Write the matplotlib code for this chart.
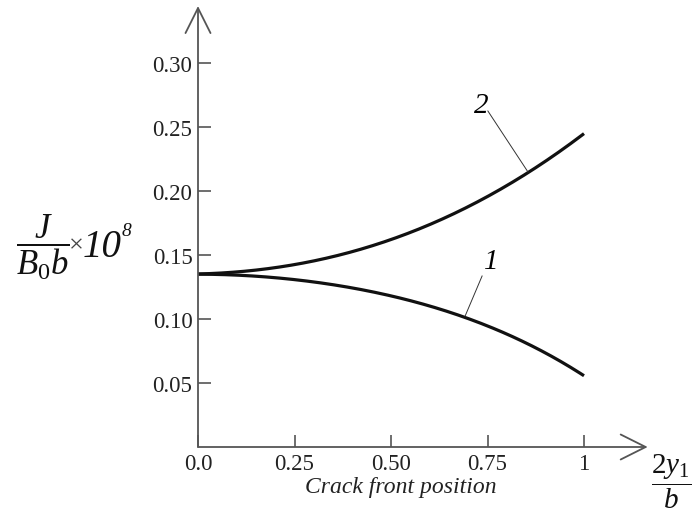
import numpy as np
import matplotlib
matplotlib.use("Agg")
import matplotlib.pyplot as plt

plt.rcParams['font.family'] = ['Liberation Serif', 'DejaVu Serif']
plt.rcParams['mathtext.fontset'] = 'custom'
plt.rcParams['mathtext.rm'] = 'Liberation Serif'
plt.rcParams['mathtext.it'] = 'Liberation Serif:italic'

# crack front position 2y1/b
x = [0.0, 0.1, 0.2, 0.3, 0.4, 0.5, 0.6, 0.7, 0.8, 0.9, 1.0]
# curve 1 (decreasing) and curve 2 (increasing), J/(B0 b) x 1e8
j1 = [0.135, 0.1342, 0.1325, 0.129, 0.124, 0.118, 0.110, 0.1005, 0.089, 0.0725, 0.056]
j2 = [0.135, 0.137, 0.1405, 0.145, 0.152, 0.1625, 0.174, 0.188, 0.204, 0.223, 0.245]

xticks = [0.0, 0.25, 0.5, 0.75, 1.0]
xtick_labels = ["0.0", "0.25", "0.50", "0.75", "1"]
yticks = [0.05, 0.10, 0.15, 0.20, 0.25, 0.30]
ytick_labels = ["0.05", "0.10", "0.15", "0.20", "0.25", "0.30"]

W, H = 693, 510
fig = plt.figure(figsize=(W / 100, H / 100), dpi=100)
# axes placed so that x=0 -> px 198, x=1 -> px 584; y=0 -> px 448, y=0.30 -> px 64
x0, xs = 198, 386
y0, ys = 448, 1280
xmax, ymax = 1.2, 0.35
ax = fig.add_axes([x0 / W, (H - y0) / H, xmax * xs / W, ymax * ys / H])
ax.set_xlim(0, xmax)
ax.set_ylim(0, ymax)

# smooth the hand-read points for a clean curve
xf = np.linspace(0, 1, 200)
c1 = np.polyfit(x, j1, 4)
c2 = np.polyfit(x, j2, 4)
ax.plot(xf, np.polyval(c1, xf), color='#111111', lw=2.3, solid_capstyle='butt')
ax.plot(xf, np.polyval(c2, xf), color='#111111', lw=2.3, solid_capstyle='butt')

for s in ax.spines.values():
    s.set_visible(False)

axcol = '#555555'
# axis lines with open arrow heads
ax.annotate('', xy=(1.165, 0), xytext=(0, 0), xycoords='data',
            arrowprops=dict(arrowstyle='->,head_length=1.0,head_width=0.5',
                            color=axcol, lw=1.3, mutation_scale=18,
                            shrinkA=0, shrinkB=0), annotation_clip=False)
ax.annotate('', xy=(0, 0.3445), xytext=(0, 0), xycoords='data',
            arrowprops=dict(arrowstyle='->,head_length=1.0,head_width=0.5',
                            color=axcol, lw=1.3, mutation_scale=18,
                            shrinkA=0, shrinkB=0), annotation_clip=False)

ax.set_xticks(xticks)
ax.set_xticklabels(xtick_labels)
ax.set_yticks(yticks)
ax.set_yticklabels(ytick_labels)
ax.tick_params(direction='in', length=9, width=1.2, color=axcol,
               labelsize=16.5, pad=4, labelcolor='#222222')

# curve labels with leader lines
ax.plot([0.751, 0.855], [0.2625, 0.2148], color='#333333', lw=0.7)
ax.text(0.733, 0.267, '2', fontsize=21, style='italic', ha='center', va='center')
ax.plot([0.736, 0.692], [0.1336, 0.1023], color='#333333', lw=0.7)
ax.text(0.759, 0.1453, '1', fontsize=21, style='italic', ha='center', va='center')

# y axis quantity
fig.text(43 / W, 1 - 247 / H, r'$\dfrac{J}{B_{\mathit{0}} b}$',
         fontsize=25, ha='center', va='center', color='#111111')
fig.text(76 / W, 1 - 246 / H, '×', fontsize=19, ha='center', va='center',
         color='#444444')
fig.text(83 / W, 1 - 257 / H, '10', fontsize=28, style='italic',
         ha='left', va='baseline', color='#111111')
fig.text(122 / W, 1 - 236 / H, '8', fontsize=14, style='italic',
         ha='left', va='baseline', color='#111111')
# x axis quantity
fig.text(671 / W, 1 - 482 / H, r'$\dfrac{\mathrm{2}y_{\mathit{1}}}{b}$',
         fontsize=21, ha='center', va='center', color='#111111')
fig.text(401 / W, 1 - 488 / H, 'Crack front position', fontsize=17,
         style='italic', ha='center', va='center', color='#222222')

fig.savefig('out.png', dpi=100)
